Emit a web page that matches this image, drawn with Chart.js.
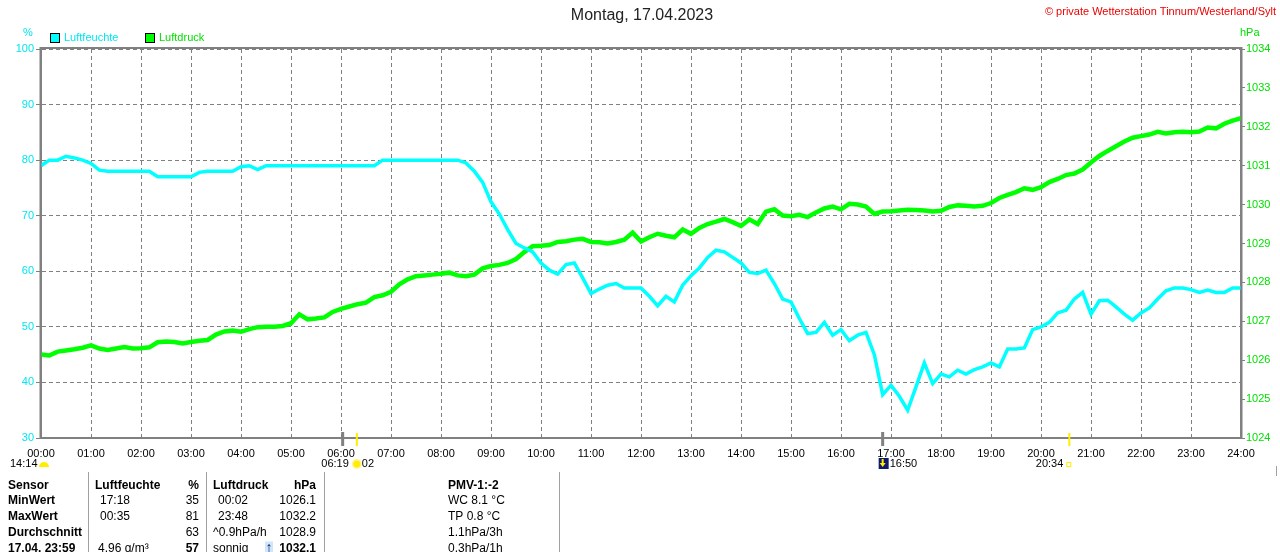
<!DOCTYPE html>
<html><head><meta charset="utf-8">
<script src="https://cdn.jsdelivr.net/npm/chart.js@4.4.0/dist/chart.umd.min.js"></script>
<style>html,body{margin:0;padding:0;background:#fff;overflow:hidden}#wrap{position:relative;width:1280px;height:552px}</style>
</head><body><div id="wrap"><canvas id="c" width="1280" height="552"></canvas></div>
<script>
// ---- data ----
const titleText = 'Montag, 17.04.2023';
const copyrightText = '\u00A9 private Wetterstation Tinnum/Westerland/Sylt';
const seriesNames = ['Luftfeuchte', 'Luftdruck'];
const stepMinutes = 10;
const humidity = [
 79,80,80,80.7,80.4,80,79.4,78.2,78,78, 78,78,78,78,77,77,77,77,77,77.8,
 78,78,78,78,78.8,79,78.3,79,79,79, 79,79,79,79,79,79,79,79,79,79,
 79,80,80,80,80,80,80,80,80,80, 80,79.5,78,76,72.5,70.3,67.5,65,64.2,63.5,
 61.5,60.2,59.5,61.2,61.5,58.8,56,56.8,57.5,57.8, 57,57,57,55.5,53.8,55.5,54.5,57.5,59.2,60.6,
 62.5,63.8,63.5,62.5,61.5,59.8,59.6,60.2,57.8,55, 54.5,51.5,48.8,49,50.8,48.5,49.5,47.5,48.5,49,
 45,37.8,39.5,37.5,35,39.2,43.5,39.8,41.5,41, 42.2,41.5,42.3,42.8,43.5,42.8,46,46,46.2,49.5,
 50,50.8,52.5,53,55,56.2,52.3,54.7,54.8,53.6, 52.3,51.2,52.5,53.4,55,56.5,57,57,56.7,56.2,
 56.6,56.2,56.2,57,57
];
const pressure = [
 1026.15,1026.12,1026.22,1026.25,1026.28,1026.32,1026.38,1026.30,1026.26,1026.30,
 1026.34,1026.30,1026.31,1026.33,1026.46,1026.48,1026.47,1026.43,1026.47,1026.50,
 1026.52,1026.66,1026.74,1026.76,1026.73,1026.80,1026.85,1026.86,1026.86,1026.88,
 1026.95,1027.18,1027.05,1027.07,1027.10,1027.24,1027.32,1027.38,1027.44,1027.48,
 1027.62,1027.67,1027.76,1027.95,1028.08,1028.16,1028.18,1028.20,1028.22,1028.25,
 1028.18,1028.16,1028.20,1028.36,1028.42,1028.45,1028.50,1028.60,1028.78,1028.93,
 1028.94,1028.96,1029.04,1029.06,1029.10,1029.12,1029.04,1029.03,1029.00,1029.04,
 1029.10,1029.28,1029.05,1029.16,1029.25,1029.20,1029.16,1029.36,1029.25,1029.40,
 1029.50,1029.56,1029.63,1029.55,1029.45,1029.62,1029.50,1029.82,1029.88,1029.72,
 1029.70,1029.74,1029.68,1029.80,1029.90,1029.95,1029.88,1030.02,1030.00,1029.95,
 1029.76,1029.82,1029.83,1029.85,1029.87,1029.86,1029.85,1029.82,1029.84,1029.94,
 1029.98,1029.97,1029.95,1029.97,1030.04,1030.17,1030.25,1030.32,1030.42,1030.38,
 1030.45,1030.58,1030.66,1030.76,1030.80,1030.90,1031.08,1031.25,1031.38,1031.50,
 1031.62,1031.72,1031.76,1031.80,1031.87,1031.83,1031.86,1031.87,1031.86,1031.88,
 1031.98,1031.96,1032.08,1032.16,1032.22
];
const hourTicks = ['00:00','01:00','02:00','03:00','04:00','05:00','06:00','07:00','08:00','09:00','10:00','11:00','12:00','13:00','14:00','15:00','16:00','17:00','18:00','19:00','20:00','21:00','22:00','23:00','24:00'];
const sunMarks = ['06:19','20:34'];
const grayMarks = ['06:02','16:50'];
const tableRows = [
 ['Sensor','Luftfeuchte','%','Luftdruck','hPa','PMV-1:-2'],
 ['MinWert','17:18','35','00:02','1026.1','WC 8.1 \u00B0C'],
 ['MaxWert','00:35','81','23:48','1032.2','TP 0.8 \u00B0C'],
 ['Durchschnitt','','63','^0.9hPa/h','1028.9','1.1hPa/3h'],
 ['17.04. 23:59','4.96 g/m\u00B3','57','sonnig','1032.1','0.3hPa/1h']
];

// ---- colours ----
const CYAN = '#00ffff', CYAN_T = '#00e6f2';
const GREEN = '#00ff00', GREEN_T = '#00e000';
const GRID = '#808080';
const FONT = '"Liberation Sans", Arial, sans-serif';

const toMin = s => { const p = s.split(':'); return (+p[0]) * 60 + (+p[1]); };
const humPts = humidity.map((v, i) => ({x: i * stepMinutes, y: v}));
const presPts = pressure.map((v, i) => ({x: i * stepMinutes, y: v}));

const extras = {
  id: 'extras',
  afterDraw(chart) {
    const ctx = chart.ctx, a = chart.chartArea, xs = chart.scales.x;
    ctx.save();
    // frame
    ctx.strokeStyle = GRID; ctx.lineWidth = 2; ctx.setLineDash([]);
    ctx.strokeRect(a.left - 0.5, a.top - 1, a.right - a.left + 1, a.bottom - a.top + 1);
    // title
    ctx.fillStyle = '#222'; ctx.font = '16px ' + FONT; ctx.textAlign = 'center'; ctx.textBaseline = 'middle';
    ctx.fillText(titleText, 642, 16);
    ctx.fillStyle = '#ee0000'; ctx.font = '11px ' + FONT; ctx.textAlign = 'right';
    ctx.fillText(copyrightText, 1276, 12);
    // units
    ctx.font = '11px ' + FONT; ctx.textAlign = 'left';
    ctx.fillStyle = CYAN_T; ctx.fillText('%', 23, 33);
    ctx.fillStyle = GREEN_T; ctx.fillText('hPa', 1240, 33);
    // legend
    const leg = [[50, CYAN, CYAN_T, seriesNames[0]], [145, GREEN, GREEN_T, seriesNames[1]]];
    leg.forEach(l => {
      ctx.fillStyle = l[1]; ctx.fillRect(l[0], 33, 10, 10);
      ctx.strokeStyle = '#000'; ctx.lineWidth = 1; ctx.strokeRect(l[0] + 0.5, 33.5, 9, 9);
      ctx.fillStyle = l[2]; ctx.font = '11px ' + FONT; ctx.textAlign = 'left';
      ctx.fillText(l[3], l[0] + 14, 38);
    });
    // axis marks
    grayMarks.forEach(t => { const x = xs.getPixelForValue(toMin(t)); ctx.fillStyle = '#808080'; ctx.fillRect(x - 1.5, 432, 3, 14); });
    sunMarks.forEach(t => { const x = xs.getPixelForValue(toMin(t)); ctx.fillStyle = '#ffee00'; ctx.fillRect(x - 1, 433, 2, 13); });
    // below axis annotations
    ctx.font = '11px ' + FONT; ctx.fillStyle = '#000'; ctx.textBaseline = 'middle';
    ctx.textAlign = 'left'; ctx.fillText('14:14', 10, 464);
    ctx.fillStyle = '#ffee00'; ctx.beginPath(); ctx.arc(44, 467, 5, Math.PI, 0); ctx.fill();
    const sr = xs.getPixelForValue(toMin(sunMarks[0]));
    ctx.fillStyle = '#000'; ctx.textAlign = 'right'; ctx.fillText(sunMarks[0], sr - 8, 464);
    ctx.textAlign = 'left'; ctx.fillText('02', sr + 5, 464);
    ctx.fillStyle = '#fff59a'; ctx.beginPath(); ctx.arc(sr, 464, 5, 0, Math.PI * 2); ctx.fill();
    ctx.fillStyle = '#ffee00'; ctx.beginPath(); ctx.arc(sr, 464, 3.5, 0, Math.PI * 2); ctx.fill();
    const gm = xs.getPixelForValue(toMin(grayMarks[1]));
    ctx.fillStyle = '#101870'; ctx.fillRect(gm - 4, 458, 10, 11);
    ctx.fillStyle = '#ffee00'; ctx.fillRect(gm - 1, 459, 2, 6); ctx.beginPath(); ctx.moveTo(gm - 3, 463); ctx.lineTo(gm + 3, 463); ctx.lineTo(gm, 467); ctx.fill();
    ctx.fillStyle = '#000'; ctx.textAlign = 'left'; ctx.fillText(grayMarks[1], gm + 7, 464);
    const ss = xs.getPixelForValue(toMin(sunMarks[1]));
    ctx.textAlign = 'right'; ctx.fillText(sunMarks[1], ss - 6, 464);
    ctx.strokeStyle = '#ffee00'; ctx.lineWidth = 1; ctx.strokeRect(ss - 2.5, 462.5, 4, 4);
    // table separators
    ctx.strokeStyle = '#a0a0a0'; ctx.lineWidth = 1;
    [88, 206, 324, 559].forEach(x => { ctx.beginPath(); ctx.moveTo(x + 0.5, 472); ctx.lineTo(x + 0.5, 552); ctx.stroke(); });
    ctx.beginPath(); ctx.moveTo(1276.5, 466); ctx.lineTo(1276.5, 476); ctx.stroke();
    // table
    const ys = [485.5, 500.7, 516.7, 532.7, 548.5];
    const B = 'bold 12px ' + FONT, R = '12px ' + FONT;
    tableRows.forEach((r, i) => {
      const y = ys[i], hdr = i === 0, last = i === 4;
      ctx.fillStyle = '#000';
      ctx.font = B; ctx.textAlign = 'left'; ctx.fillText(r[0], 8, y);
      ctx.font = hdr ? B : R; ctx.fillText(r[1], hdr ? 95 : (last ? 98 : 100), y);
      ctx.font = (hdr || last) ? B : R; ctx.textAlign = 'right'; ctx.fillText(r[2], 199, y);
      ctx.font = hdr ? B : R; ctx.textAlign = 'left';
      ctx.fillText(r[3], (hdr || last || i === 3) ? 213 : 218, y);
      ctx.font = (hdr || last) ? B : R; ctx.textAlign = 'right'; ctx.fillText(r[4], 316, y);
      if (last) { ctx.fillStyle = '#cfe6ff'; ctx.fillRect(265, y - 7, 8, 14); ctx.fillStyle = '#101850'; ctx.font = 'bold 14px ' + FONT; ctx.textAlign = 'center'; ctx.fillText('\u2191', 269, y); ctx.fillStyle = '#000'; }
      ctx.font = hdr ? B : R; ctx.textAlign = 'left'; ctx.fillText(r[5], 448, y);
    });
    ctx.restore();
  }
};

new Chart(document.getElementById('c'), {
  type: 'line',
  plugins: [extras],
  data: {
    datasets: [
      {label: seriesNames[0], data: humPts, yAxisID: 'y', borderColor: CYAN, borderWidth: 3.5, pointRadius: 0, tension: 0, fill: false},
      {label: seriesNames[1], data: presPts, yAxisID: 'y2', borderColor: GREEN, borderWidth: 4.5, pointRadius: 0, tension: 0, fill: false}
    ]
  },
  options: {
    responsive: false, animation: false, devicePixelRatio: 1,
    layout: {padding: {left: 0, right: 0, top: 49, bottom: 92}},
    plugins: {legend: {display: false}, tooltip: {enabled: false}, title: {display: false}},
    scales: {
      x: {
        type: 'linear', min: 0, max: 1440,
        afterBuildTicks: s => { s.ticks = hourTicks.map(t => ({value: toMin(t)})); },
        afterFit: s => { s.height = 22; },
        ticks: {color: '#000', font: {family: FONT, size: 11}, padding: 9, maxRotation: 0, autoSkip: false,
          callback: (v, i) => hourTicks[i]},
        grid: {color: GRID, lineWidth: 1, tickLength: 0, drawTicks: false},
        border: {display: true, color: GRID, width: 2, dash: [4, 3]}
      },
      y: {
        position: 'left', min: 30, max: 100,
        afterFit: s => { s.width = 41; },
        ticks: {stepSize: 10, color: CYAN_T, font: {family: FONT, size: 11}, padding: 2, callback: v => String(v)},
        grid: {color: GRID, lineWidth: 1, tickLength: 5, tickColor: GRID, tickBorderDash: [], drawTicks: true},
        border: {display: true, color: GRID, width: 2, dash: [4, 3]}
      },
      y2: {
        position: 'right', min: 1024, max: 1034,
        afterFit: s => { s.width = 39; },
        ticks: {stepSize: 1, color: GREEN_T, font: {family: FONT, size: 11}, padding: 1, callback: v => String(v)},
        grid: {drawOnChartArea: false, tickLength: 4, tickColor: GRID},
        border: {display: true, color: GRID, width: 2}
      }
    }
  }
});
</script></body></html>
